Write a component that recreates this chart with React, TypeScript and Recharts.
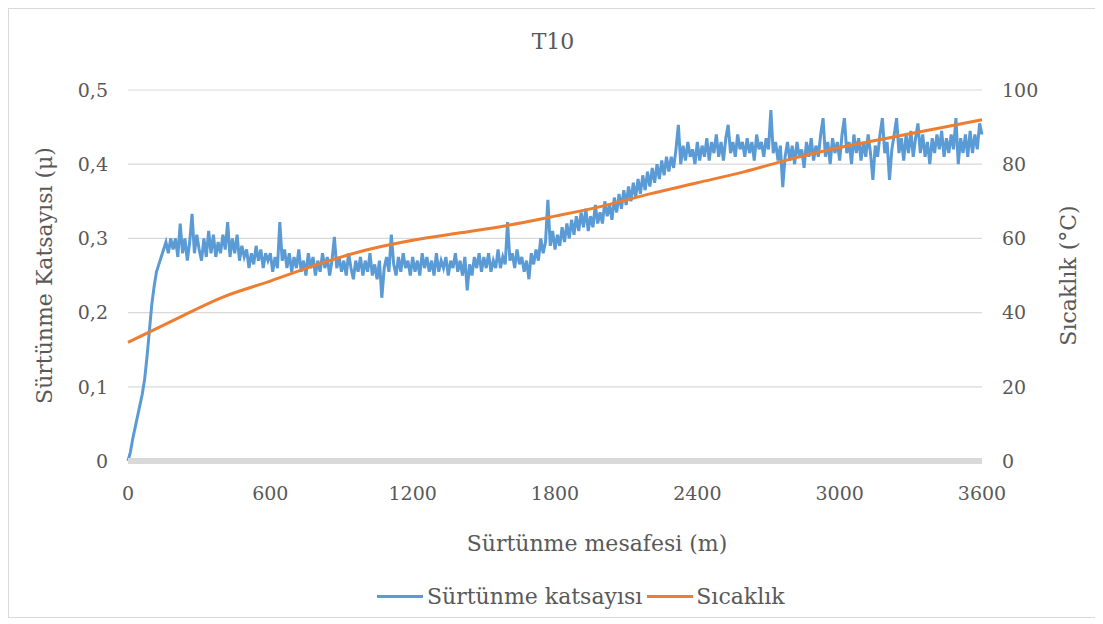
import React from "react";
import {
  LineChart,
  Line,
  XAxis,
  YAxis,
  CartesianGrid,
  Label,
} from "recharts";

// Sliding distance (m) for the friction coefficient readings, every 10 m
const frictionDistance: number[] = Array.from({ length: 361 }, (_, i) => i * 10);

// Friction coefficient (μ) readings
const frictionValues: number[] = [
  0, 0.012, 0.03, 0.045, 0.06, 0.075, 0.09, 0.11, 0.14, 0.175,
  0.21, 0.235, 0.255, 0.265, 0.275, 0.285, 0.295, 0.28, 0.3, 0.285,
  0.3, 0.275, 0.32, 0.28, 0.3, 0.27, 0.295, 0.333, 0.28, 0.305,
  0.285, 0.27, 0.3, 0.275, 0.31, 0.28, 0.305, 0.275, 0.295, 0.28,
  0.305, 0.285, 0.322, 0.275, 0.3, 0.28, 0.305, 0.27, 0.29, 0.275,
  0.285, 0.26, 0.28, 0.265, 0.29, 0.27, 0.285, 0.26, 0.28, 0.27,
  0.28, 0.255, 0.275, 0.26, 0.322, 0.27, 0.285, 0.26, 0.28, 0.255,
  0.275, 0.26, 0.285, 0.255, 0.27, 0.25, 0.28, 0.26, 0.275, 0.25,
  0.27, 0.255, 0.28, 0.26, 0.275, 0.25, 0.27, 0.302, 0.26, 0.275,
  0.255, 0.27, 0.25, 0.28, 0.26, 0.245, 0.27, 0.255, 0.275, 0.25,
  0.27, 0.255, 0.28, 0.25, 0.265, 0.245, 0.27, 0.22, 0.26, 0.275,
  0.255, 0.305, 0.265, 0.25, 0.275, 0.255, 0.28, 0.26, 0.27, 0.25,
  0.275, 0.255, 0.27, 0.25, 0.28, 0.26, 0.275, 0.255, 0.27, 0.25,
  0.28, 0.255, 0.27, 0.26, 0.275, 0.25, 0.27, 0.26, 0.28, 0.255,
  0.27, 0.25, 0.275, 0.23, 0.265, 0.25, 0.275, 0.26, 0.28, 0.255,
  0.275, 0.26, 0.28, 0.255, 0.27, 0.26, 0.285, 0.26, 0.275, 0.265,
  0.322, 0.27, 0.28, 0.26, 0.285, 0.265, 0.275, 0.255, 0.27, 0.245,
  0.28, 0.265, 0.285, 0.27, 0.3, 0.28, 0.295, 0.352, 0.29, 0.31,
  0.285, 0.305, 0.29, 0.315, 0.295, 0.32, 0.3, 0.325, 0.305, 0.33,
  0.31, 0.335, 0.315, 0.34, 0.31, 0.33, 0.315, 0.345, 0.32, 0.335,
  0.32, 0.35, 0.33, 0.345, 0.325, 0.355, 0.335, 0.36, 0.34, 0.365,
  0.345, 0.37, 0.35, 0.375, 0.355, 0.38, 0.36, 0.385, 0.365, 0.39,
  0.37, 0.395, 0.375, 0.4, 0.38, 0.405, 0.385, 0.41, 0.39, 0.41,
  0.395, 0.42, 0.453, 0.4, 0.425, 0.405, 0.43, 0.41, 0.42, 0.4,
  0.43, 0.405, 0.425, 0.41, 0.435, 0.405, 0.43, 0.415, 0.44, 0.41,
  0.43, 0.405, 0.435, 0.453, 0.415, 0.43, 0.41, 0.44, 0.42, 0.43,
  0.41, 0.435, 0.415, 0.43, 0.405, 0.44, 0.42, 0.43, 0.41, 0.435,
  0.42, 0.473, 0.415, 0.43, 0.405, 0.425, 0.369, 0.41, 0.43, 0.405,
  0.425, 0.4, 0.43, 0.41, 0.42, 0.395, 0.43, 0.41, 0.435, 0.405,
  0.425, 0.41, 0.44, 0.462, 0.41, 0.43, 0.4, 0.435, 0.415, 0.43,
  0.405, 0.44, 0.462, 0.415, 0.43, 0.4, 0.44, 0.415, 0.435, 0.405,
  0.43, 0.41, 0.44, 0.415, 0.379, 0.425, 0.41, 0.44, 0.462, 0.415,
  0.43, 0.379, 0.42, 0.44, 0.462, 0.415, 0.435, 0.405, 0.44, 0.415,
  0.445, 0.41, 0.435, 0.455, 0.415, 0.44, 0.41, 0.43, 0.4, 0.435,
  0.415, 0.44, 0.42, 0.445, 0.41, 0.435, 0.415, 0.44, 0.42, 0.462,
  0.4, 0.435, 0.415, 0.44, 0.41, 0.445, 0.415, 0.44, 0.42, 0.455,
  0.44,
];

// Sliding distance (m) for the temperature readings
const temperatureDistance: number[] = [
  0, 200, 400, 600, 800, 1000, 1200, 1400, 1600, 1800,
  2000, 2200, 2400, 2600, 2800, 3000, 3200, 3400, 3600,
];

// Temperature (°C) readings
const temperatureValues: number[] = [
  32, 38.2, 44.2, 48.5, 53, 56.8, 59.5, 61.5, 63.5, 66,
  68.7, 72, 75, 78, 81.5, 84.5, 87, 89.5, 92,
];

const xTicks: number[] = [0, 600, 1200, 1800, 2400, 3000, 3600];
const leftTicks: number[] = [0, 0.1, 0.2, 0.3, 0.4, 0.5];
const rightTicks: number[] = [0, 20, 40, 60, 80, 100];

const frictionData = frictionDistance.map((d, i) => ({ d, mu: frictionValues[i] }));
const temperatureData = temperatureDistance.map((d, i) => ({ d, t: temperatureValues[i] }));

const FONT = "'DejaVu Serif', serif";
const TEXT = "#595959";
const BLUE = "#5b9bd5";
const ORANGE = "#ed7d31";
const TICK_SIZE = 19;
const TITLE_SIZE = 22;

const fmtMu = (v: number) => (v === 0 ? "0" : v.toFixed(1).replace(".", ","));

function LegendRow() {
  return (
    <div
      style={{
        position: "absolute",
        top: 575,
        left: 368,
        display: "flex",
        alignItems: "center",
        whiteSpace: "nowrap",
        fontFamily: FONT,
        fontSize: 22,
        color: TEXT,
      }}
    >
      <span style={{ display: "inline-block", width: 46, height: 3, background: BLUE, marginRight: 4 }} />
      <span style={{ marginRight: 5 }}>Sürtünme katsayısı</span>
      <span style={{ display: "inline-block", width: 46, height: 3, background: ORANGE, marginRight: 3 }} />
      <span>Sıcaklık</span>
    </div>
  );
}

export default function App() {
  return (
    <div
      style={{
        position: "relative",
        width: 1088,
        height: 608,
        border: "1px solid #d9d9d9",
        background: "#fff",
      }}
    >
      <div
        style={{
          position: "absolute",
          top: 20,
          left: 0,
          width: "100%",
          textAlign: "center",
          fontFamily: FONT,
          fontSize: TITLE_SIZE,
          color: TEXT,
        }}
      >
        T10
      </div>
      <LineChart
        width={1088}
        height={608}
        margin={{ top: 81, right: 55, left: 59, bottom: 116 }}
      >
        <CartesianGrid vertical={false} stroke="#d9d9d9" strokeWidth={1.2} yAxisId="mu" />
        <XAxis
          dataKey="d"
          type="number"
          domain={[0, 3600]}
          ticks={xTicks}
          allowDuplicatedCategory={false}
          axisLine={{ stroke: "#d9d9d9", strokeWidth: 6 }}
          tickLine={false}
          tick={{ fontFamily: FONT, fontSize: TICK_SIZE, fill: TEXT }}
          tickMargin={20}
          height={40}
        >
          <Label
            value="Sürtünme mesafesi (m)"
            position="bottom"
            offset={34}
            dx={42}
            style={{ fontFamily: FONT, fontSize: TITLE_SIZE, fill: TEXT }}
          />
        </XAxis>
        <YAxis
          yAxisId="mu"
          domain={[0, 0.5]}
          ticks={leftTicks}
          tickFormatter={fmtMu}
          axisLine={false}
          tickLine={false}
          tick={{ fontFamily: FONT, fontSize: TICK_SIZE, fill: TEXT }}
          tickMargin={14}
          width={60}
        >
          <Label
            value="Sürtünme Katsayısı (μ)"
            angle={-90}
            position="left"
            offset={24}
            style={{ fontFamily: FONT, fontSize: TITLE_SIZE, fill: TEXT, textAnchor: "middle" }}
          />
        </YAxis>
        <YAxis
          yAxisId="t"
          orientation="right"
          domain={[0, 100]}
          ticks={rightTicks}
          axisLine={false}
          tickLine={false}
          tick={{ fontFamily: FONT, fontSize: TICK_SIZE, fill: TEXT }}
          tickMargin={14}
          width={60}
        >
          <Label
            value="Sıcaklık (°C)"
            angle={-90}
            position="right"
            offset={26}
            style={{ fontFamily: FONT, fontSize: TITLE_SIZE, fill: TEXT, textAnchor: "middle" }}
          />
        </YAxis>
        <Line
          yAxisId="mu"
          data={frictionData}
          dataKey="mu"
          name="Sürtünme katsayısı"
          stroke={BLUE}
          strokeWidth={3}
          dot={false}
          isAnimationActive={false}
        />
        <Line
          yAxisId="t"
          data={temperatureData}
          dataKey="t"
          name="Sıcaklık"
          stroke={ORANGE}
          strokeWidth={3}
          dot={false}
          type="monotone"
          isAnimationActive={false}
        />
      </LineChart>
      <LegendRow />
    </div>
  );
}
